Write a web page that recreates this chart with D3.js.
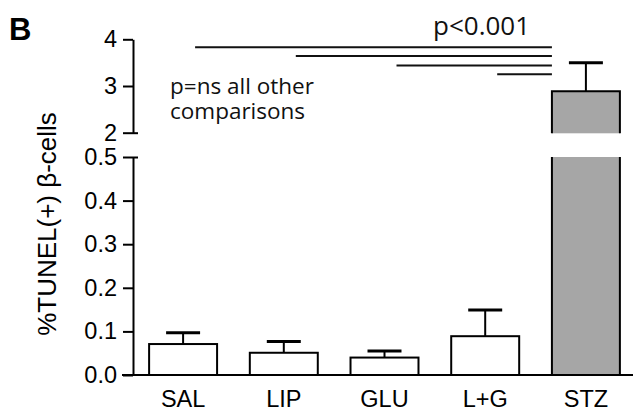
<!DOCTYPE html>
<html><head><meta charset="utf-8">
<script src="https://cdn.jsdelivr.net/npm/d3@7"></script>
<style>body{margin:0;background:#fff}svg{display:block}</style>
</head><body>
<svg id="chart" width="633" height="411"></svg>
<script>
// ---- data ----
const categories = ["SAL", "LIP", "GLU", "L+G", "STZ"];
const means = [0.071, 0.051, 0.040, 0.089, 2.89];
const errors = [0.026, 0.026, 0.015, 0.060, 0.61];
const fills = ["#ffffff", "#ffffff", "#ffffff", "#ffffff", "#a6a6a6"];
const lowTicks = [0.0, 0.1, 0.2, 0.3, 0.4, 0.5];
const lowTickLabels = ["0.0", "0.1", "0.2", "0.3", "0.4", "0.5"];
const highTicks = [2, 3, 4];
const highTickLabels = ["2", "3", "4"];
const sigFrom = ["SAL", "LIP", "GLU", "L+G"];
const sigTo = "STZ";
const sigLevels = [3.83, 3.64, 3.44, 3.25];
const sigLabel = "p<0.001";
const nsLines = ["p=ns all other", "comparisons"];
const yTitle = "%TUNEL(+) \u03B2-cells";
const panelLabel = "B";

// ---- layout ----
const svg = d3.select("#chart");
const axisX = 133, baseY = 375;
const sansFont = "'Liberation Sans', Arial, Helvetica, sans-serif";
const humFont = "'Open Sans', 'DejaVu Sans', sans-serif";

const x = d3.scaleBand().domain(categories).range([axisX, 636])
  .paddingInner(0.325).paddingOuter(0.16);
const yLow = d3.scaleLinear().domain([0, 0.5]).range([baseY, 157]);
const yHigh = d3.scaleLinear().domain([2, 4]).range([132.7, 39.3]);

const data = categories.map((c, i) => ({ c, m: means[i], e: errors[i], f: fills[i] }));

// bars
const bw = x.bandwidth();
data.forEach(d => {
  const x0 = x(d.c), x1 = x0 + bw;
  if (d.m <= 0.5) {
    svg.append("rect").attr("x", x0).attr("y", yLow(d.m)).attr("width", bw)
      .attr("height", yLow(0) - yLow(d.m)).attr("fill", d.f)
      .attr("stroke", "#000").attr("stroke-width", 2);
  } else {
    svg.append("rect").attr("x", x0).attr("y", yLow(0.5)).attr("width", bw)
      .attr("height", yLow(0) - yLow(0.5)).attr("fill", d.f);
    svg.append("path").attr("d", `M${x0},${yLow(0.5)}V${yLow(0)}H${x1}V${yLow(0.5)}`)
      .attr("fill", "none").attr("stroke", "#000").attr("stroke-width", 2);
    const yb = yHigh(2) + 0.6;
    svg.append("rect").attr("x", x0).attr("y", yHigh(d.m)).attr("width", bw)
      .attr("height", yb - yHigh(d.m)).attr("fill", d.f);
    svg.append("path").attr("d", `M${x0},${yb}V${yHigh(d.m)}H${x1}V${yb}`)
      .attr("fill", "none").attr("stroke", "#000").attr("stroke-width", 2);
  }
  const ys = d.m <= 0.5 ? yLow : yHigh;
  const cx = x0 + bw / 2;
  svg.append("line").attr("x1", cx).attr("x2", cx)
    .attr("y1", ys(d.m)).attr("y2", ys(d.m + d.e))
    .attr("stroke", "#000").attr("stroke-width", 2);
  svg.append("line").attr("x1", cx - bw / 4).attr("x2", cx + bw / 4)
    .attr("y1", ys(d.m + d.e)).attr("y2", ys(d.m + d.e))
    .attr("stroke", "#000").attr("stroke-width", 3);
});

// x axis
const xAxis = svg.append("g").attr("transform", `translate(0,${baseY})`)
  .call(d3.axisBottom(x).tickSize(0).tickPadding(15));
xAxis.select(".domain").attr("stroke-width", 2).attr("d", `M${axisX - 11},0H636`);
xAxis.selectAll("text").attr("font-family", sansFont).attr("font-size", 23.5).attr("fill", "#000");

// y axes (broken)
function styleAxis(g) {
  g.select(".domain").attr("stroke-width", 2);
  g.selectAll(".tick line").attr("stroke-width", 2);
  g.selectAll("text").attr("font-family", sansFont).attr("font-size", 23.5).attr("fill", "#000");
}
const yLowAxis = svg.append("g").attr("transform", `translate(${axisX},0)`)
  .call(d3.axisLeft(yLow).tickValues(lowTicks).tickSize(10).tickSizeOuter(0).tickPadding(6)
    .tickFormat((d, i) => lowTickLabels[i]));
styleAxis(yLowAxis);
const yHighAxis = svg.append("g").attr("transform", `translate(${axisX},0)`)
  .call(d3.axisLeft(yHigh).tickValues(highTicks).tickSize(10).tickSizeOuter(0).tickPadding(6)
    .tickFormat((d, i) => highTickLabels[i]));
styleAxis(yHighAxis);
svg.append("g").attr("transform", `translate(${axisX},0)`)
  .call(d3.axisRight(yLow).tickValues([0.5]).tickSize(5).tickFormat(""))
  .call(g => { g.select(".domain").remove(); g.selectAll("line").attr("stroke-width", 2); });
svg.append("g").attr("transform", `translate(${axisX},0)`)
  .call(d3.axisRight(yHigh).tickValues([2]).tickSize(5).tickFormat(""))
  .call(g => { g.select(".domain").remove(); g.selectAll("line").attr("stroke-width", 2); });

// significance lines
sigFrom.forEach((c, i) => {
  svg.append("line").attr("x1", x(c) + bw / 2 + 12).attr("x2", x(sigTo))
    .attr("y1", yHigh(sigLevels[i])).attr("y2", yHigh(sigLevels[i]))
    .attr("stroke", "#111").attr("stroke-width", 2);
});
svg.append("text").attr("x", 433).attr("y", 35).text(sigLabel)
  .attr("font-family", humFont).attr("font-size", 26).attr("fill", "#111");
const ns = svg.append("text").attr("font-family", humFont).attr("font-size", 22.5).attr("fill", "#111");
nsLines.forEach((t, i) => {
  ns.append("tspan").attr("x", 170).attr("y", 94 + i * 25).text(t);
});

// y title
svg.append("text").attr("transform", "translate(56,224) rotate(-90)")
  .attr("text-anchor", "middle").attr("font-family", sansFont).attr("font-size", 26)
  .attr("fill", "#000").text(yTitle);

// panel label
svg.append("text").attr("x", 9).attr("y", 40).text(panelLabel)
  .attr("font-family", sansFont).attr("font-weight", "bold").attr("font-size", 31).attr("fill", "#000");
</script>
</body></html>
